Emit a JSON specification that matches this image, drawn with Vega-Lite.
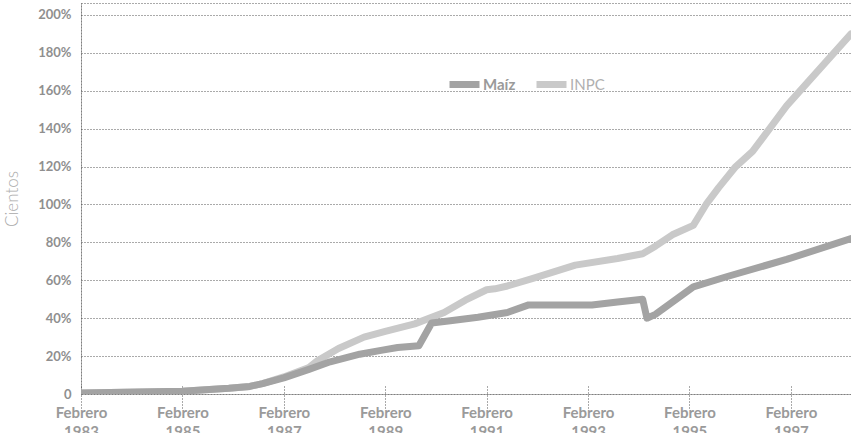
{
  "$schema": "https://vega.github.io/schema/vega-lite/v6.json",
  "autosize": {"type": "none"},
  "width": 770,
  "height": 391,
  "padding": {"left": 81, "top": 3, "right": 0, "bottom": 39},
  "background": "white",
  "config": {
    "font": "Lato",
    "view": {"stroke": "#555", "strokeDash": [1, 2], "strokeWidth": 1}
  },
  "data": {
    "values": [
      {"fecha": "1983-02-01", "serie": "INPC", "valor": 0.5},
      {"fecha": "1985-02-01", "serie": "INPC", "valor": 1.5},
      {"fecha": "1986-01-01", "serie": "INPC", "valor": 3},
      {"fecha": "1986-06-01", "serie": "INPC", "valor": 4},
      {"fecha": "1986-09-01", "serie": "INPC", "valor": 5.5},
      {"fecha": "1987-02-01", "serie": "INPC", "valor": 9},
      {"fecha": "1987-08-01", "serie": "INPC", "valor": 14},
      {"fecha": "1987-10-01", "serie": "INPC", "valor": 17.5},
      {"fecha": "1988-03-01", "serie": "INPC", "valor": 24},
      {"fecha": "1988-09-01", "serie": "INPC", "valor": 30},
      {"fecha": "1989-02-01", "serie": "INPC", "valor": 33},
      {"fecha": "1989-09-01", "serie": "INPC", "valor": 37},
      {"fecha": "1990-04-01", "serie": "INPC", "valor": 43},
      {"fecha": "1990-09-01", "serie": "INPC", "valor": 49.5},
      {"fecha": "1991-02-01", "serie": "INPC", "valor": 55},
      {"fecha": "1991-04-01", "serie": "INPC", "valor": 55.5},
      {"fecha": "1991-07-01", "serie": "INPC", "valor": 57},
      {"fecha": "1992-01-01", "serie": "INPC", "valor": 61},
      {"fecha": "1992-11-01", "serie": "INPC", "valor": 68},
      {"fecha": "1993-09-01", "serie": "INPC", "valor": 71.5},
      {"fecha": "1994-03-01", "serie": "INPC", "valor": 74},
      {"fecha": "1994-06-01", "serie": "INPC", "valor": 78},
      {"fecha": "1994-10-01", "serie": "INPC", "valor": 84},
      {"fecha": "1995-03-01", "serie": "INPC", "valor": 89},
      {"fecha": "1995-06-01", "serie": "INPC", "valor": 100},
      {"fecha": "1995-09-01", "serie": "INPC", "valor": 109},
      {"fecha": "1996-01-01", "serie": "INPC", "valor": 120},
      {"fecha": "1996-05-01", "serie": "INPC", "valor": 128},
      {"fecha": "1997-01-01", "serie": "INPC", "valor": 152},
      {"fecha": "1998-04-10", "serie": "INPC", "valor": 190},
      {"fecha": "1983-02-01", "serie": "Maíz", "valor": 0.5},
      {"fecha": "1985-02-01", "serie": "Maíz", "valor": 1.5},
      {"fecha": "1986-01-01", "serie": "Maíz", "valor": 3},
      {"fecha": "1986-06-01", "serie": "Maíz", "valor": 4},
      {"fecha": "1986-09-01", "serie": "Maíz", "valor": 5.5},
      {"fecha": "1987-02-01", "serie": "Maíz", "valor": 8.5},
      {"fecha": "1987-08-01", "serie": "Maíz", "valor": 13},
      {"fecha": "1988-01-01", "serie": "Maíz", "valor": 17},
      {"fecha": "1988-08-01", "serie": "Maíz", "valor": 21},
      {"fecha": "1989-01-01", "serie": "Maíz", "valor": 23},
      {"fecha": "1989-05-01", "serie": "Maíz", "valor": 24.5},
      {"fecha": "1989-10-01", "serie": "Maíz", "valor": 25.5},
      {"fecha": "1990-01-01", "serie": "Maíz", "valor": 37.5},
      {"fecha": "1990-05-01", "serie": "Maíz", "valor": 38.5},
      {"fecha": "1990-12-01", "serie": "Maíz", "valor": 40.5},
      {"fecha": "1991-07-01", "serie": "Maíz", "valor": 43},
      {"fecha": "1991-12-01", "serie": "Maíz", "valor": 47},
      {"fecha": "1992-06-01", "serie": "Maíz", "valor": 47},
      {"fecha": "1993-03-01", "serie": "Maíz", "valor": 47},
      {"fecha": "1993-09-01", "serie": "Maíz", "valor": 48.5},
      {"fecha": "1994-03-01", "serie": "Maíz", "valor": 50},
      {"fecha": "1994-04-01", "serie": "Maíz", "valor": 40},
      {"fecha": "1994-06-01", "serie": "Maíz", "valor": 42},
      {"fecha": "1995-03-01", "serie": "Maíz", "valor": 56.5},
      {"fecha": "1995-11-01", "serie": "Maíz", "valor": 62},
      {"fecha": "1997-01-01", "serie": "Maíz", "valor": 71},
      {"fecha": "1998-04-10", "serie": "Maíz", "valor": 82}
    ]
  },
  "mark": {"type": "line", "strokeWidth": 7, "strokeCap": "round", "strokeJoin": "round", "clip": true},
  "encoding": {
    "x": {
      "field": "fecha",
      "type": "temporal",
      "scale": {"domain": [{"year": 1983, "month": 2, "date": 1}, {"year": 1998, "month": 4, "date": 10}]},
      "axis": {
        "title": null,
        "grid": false,
        "domain": false,
        "values": [
          {"year": 1983, "month": 2, "date": 1},
          {"year": 1985, "month": 2, "date": 1},
          {"year": 1987, "month": 2, "date": 1},
          {"year": 1989, "month": 2, "date": 1},
          {"year": 1991, "month": 2, "date": 1},
          {"year": 1993, "month": 2, "date": 1},
          {"year": 1995, "month": 2, "date": 1},
          {"year": 1997, "month": 2, "date": 1}
        ],
        "labelExpr": "['Febrero', timeFormat(datum.value, '%Y')]",
        "offset": -8,
        "tickSize": 22,
        "tickColor": "#555",
        "tickDash": [1, 2],
        "labelPadding": -3,
        "labelFont": "Lato",
        "labelFontSize": 15,
        "labelFontWeight": "bold",
        "labelColor": "#9a9a9a",
        "labelLineHeight": 19,
        "labelFlush": false,
        "labelOverlap": false,
        "labelBaseline": "top",
        "labelDx": 4
      }
    },
    "y": {
      "field": "valor",
      "type": "quantitative",
      "scale": {"domain": [0, 206.3], "nice": false, "zero": true},
      "axis": {
        "title": "Cientos",
        "titleFont": "Lato",
        "titleFontWeight": 300,
        "titleFontSize": 17,
        "titleColor": "#aaaaaa",
        "titlePadding": 16,
        "values": [0, 20, 40, 60, 80, 100, 120, 140, 160, 180, 200],
        "labelExpr": "datum.value == 0 ? '0' : datum.value + '%'",
        "labelFont": "Lato",
        "labelFontSize": 13,
        "labelFontWeight": "bold",
        "labelColor": "#8f8f8f",
        "labelPadding": 10,
        "ticks": false,
        "domain": true,
        "domainColor": "#555",
        "domainDash": [1, 2],
        "grid": true,
        "gridColor": "#555",
        "gridDash": [1, 2],
        "gridWidth": 1
      }
    },
    "color": {
      "field": "serie",
      "type": "nominal",
      "scale": {"domain": ["Maíz", "INPC"], "range": ["#a3a3a3", "#c9c9c9"]},
      "legend": {
        "title": null,
        "orient": "none",
        "legendX": 365,
        "legendY": 63,
        "direction": "horizontal",
        "gridAlign": "none",
        "symbolType": "stroke",
        "symbolStrokeWidth": 7,
        "symbolSize": 900,
        "columnPadding": 6,
        "labelOffset": 0,
        "labelFont": "Lato",
        "labelFontSize": 15,
        "encode": {
          "labels": {
            "update": {
              "fill": {"signal": "datum.label == 'Maíz' ? '#9a9a9a' : '#b0b0b0'"},
              "fontWeight": {"signal": "datum.label == 'Maíz' ? 'bold' : 'normal'"}
            }
          }
        }
      }
    }
  }
}
